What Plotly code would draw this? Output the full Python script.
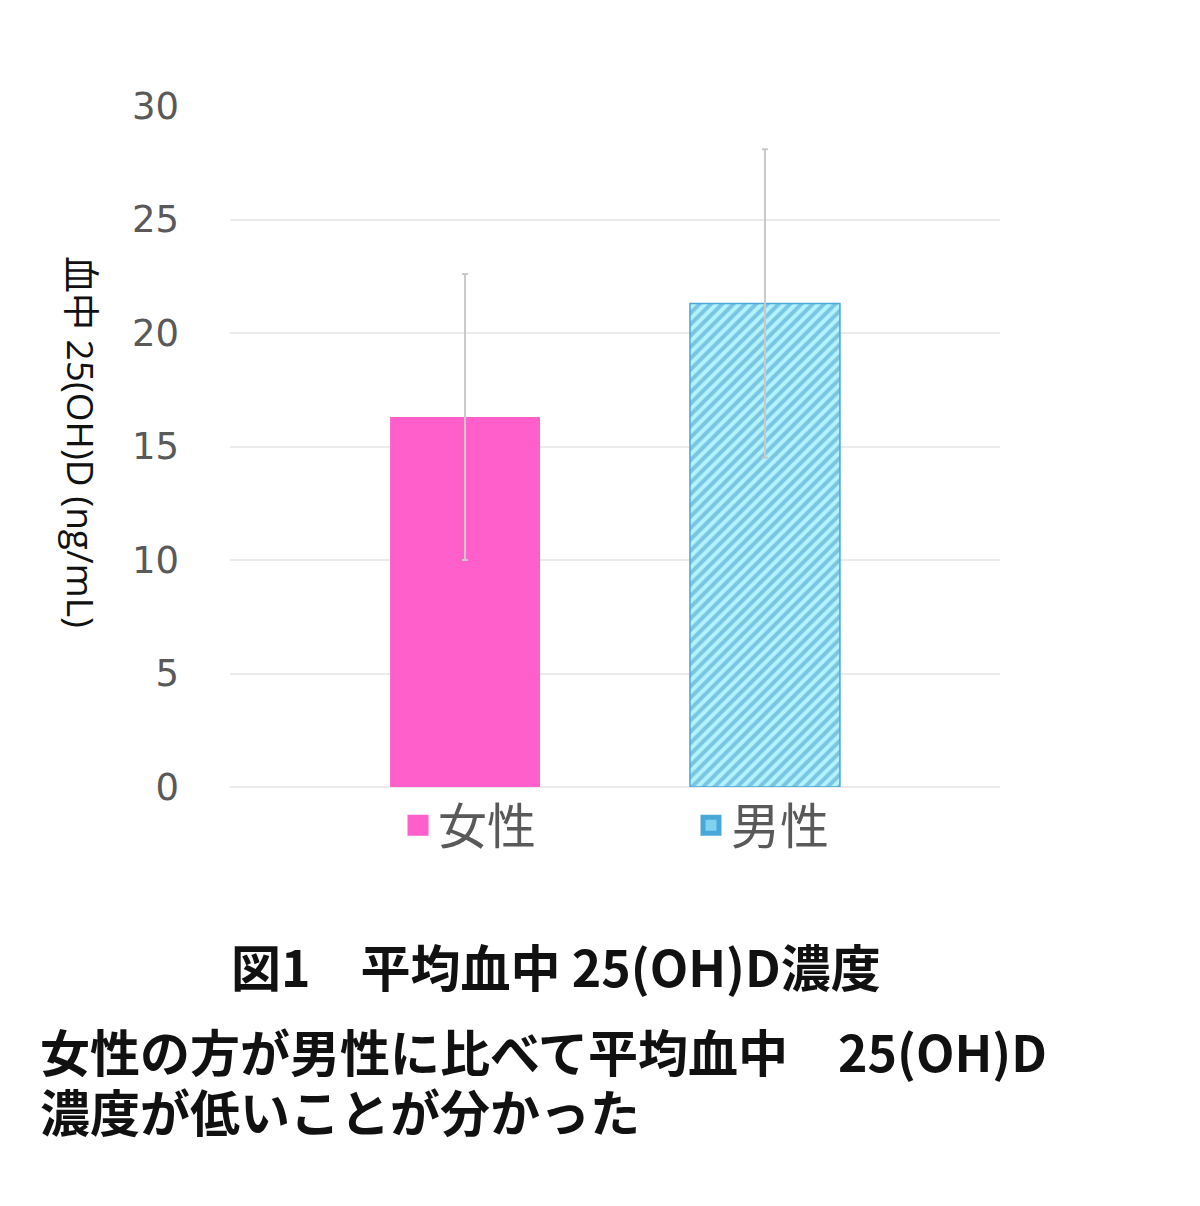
import plotly.graph_objects as go

groups = ["女性", "男性"]
means = [16.3, 21.3]
sds = [6.3, 6.8]
category = [""]
y_ticks = [0, 5, 10, 15, 20, 25, 30]

female_color = "#ff5fca"
male_fg = "#3f97c6"
male_bg = "#b3f3ff"
male_line = "#4aa8d8"

fig = go.Figure()
fig.add_trace(go.Bar(
    x=category, y=[means[0]], name=groups[0], showlegend=False,
    marker=dict(color=female_color, line=dict(width=0)),
    error_y=dict(type="data", array=[sds[0]], visible=True, color="#c9c9c9", thickness=2, width=3),
))
fig.add_trace(go.Bar(
    x=category, y=[means[1]], name=groups[1], showlegend=False,
    marker=dict(color=male_bg,
                pattern=dict(shape="/", fgcolor=male_fg, bgcolor=male_bg, size=8, solidity=0.5),
                line=dict(color=male_line, width=1.5)),
    error_y=dict(type="data", array=[sds[1]], visible=True, color="#c9c9c9", thickness=2, width=3),
))
# legend entries
fig.add_trace(go.Scatter(x=[None], y=[None], mode="markers", name=groups[0],
                         marker=dict(symbol="square", size=16, color=female_color,
                                     line=dict(color=female_color, width=5))))
fig.add_trace(go.Scatter(x=[None], y=[None], mode="markers", name=groups[1],
                         marker=dict(symbol="square", size=16, color="#7fd3f0",
                                     line=dict(color=male_line, width=5))))

fig.update_layout(
    width=1200, height=1206,
    margin=dict(l=230, r=200, t=106, b=419),
    paper_bgcolor="white", plot_bgcolor="white",
    barmode="group", bargap=0.221, bargroupgap=0.5,
    showlegend=True,
    legend=dict(orientation="h", x=(398 - 230) / 770, xanchor="left", y=0.0, yanchor="top",
                bgcolor="rgba(0,0,0,0)",
                font=dict(family="Noto Sans CJK JP", size=49, color="#595959"),
                entrywidth=248, itemsizing="trace"),
    font=dict(family="Noto Sans CJK JP"),
)
fig.update_xaxes(showticklabels=False, showgrid=False, showline=False, zeroline=False, ticks="")
fig.update_yaxes(range=[0, 30], tickvals=y_ticks, showgrid=True, gridcolor="#ebebeb", gridwidth=1.5,
                 zeroline=True, zerolinecolor="#ebebeb", zerolinewidth=1.5,
                 tickfont=dict(family="DejaVu Sans", size=37, color="#595959"),
                 ticks="", ticklabelstandoff=50)

fig.add_annotation(text="血中 25(OH)D (ng/mL)", textangle=90, xref="paper", yref="paper",
                   x=(81 - 230) / 770, y=(787 - 442) / 681, showarrow=False, xanchor="center", yanchor="middle",
                   font=dict(family="Open Sans, Noto Sans CJK JP", size=37, color="#111111"))
fig.add_annotation(text="<b>図1　平均血中 25(OH)D濃度</b>", xref="paper", yref="paper",
                   x=(556 - 230) / 770, y=(787 - 965) / 681, showarrow=False, xanchor="center", yanchor="middle",
                   font=dict(family="Noto Sans CJK JP", size=50, color="#111111"))
fig.add_annotation(text="<b>女性の方が男性に比べて平均血中　25(OH)D</b>",
                   xref="paper", yref="paper", align="left",
                   x=(38 - 230) / 770, y=(787 - 1050) / 681, showarrow=False, xanchor="left", yanchor="middle",
                   font=dict(family="Noto Sans CJK JP", size=50, color="#111111"))
fig.add_annotation(text="<b>濃度が低いことが分かった</b>",
                   xref="paper", yref="paper", align="left",
                   x=(38 - 230) / 770, y=(787 - 1110) / 681, showarrow=False, xanchor="left", yanchor="middle",
                   font=dict(family="Noto Sans CJK JP", size=50, color="#111111"))

fig.write_html("out.html")
